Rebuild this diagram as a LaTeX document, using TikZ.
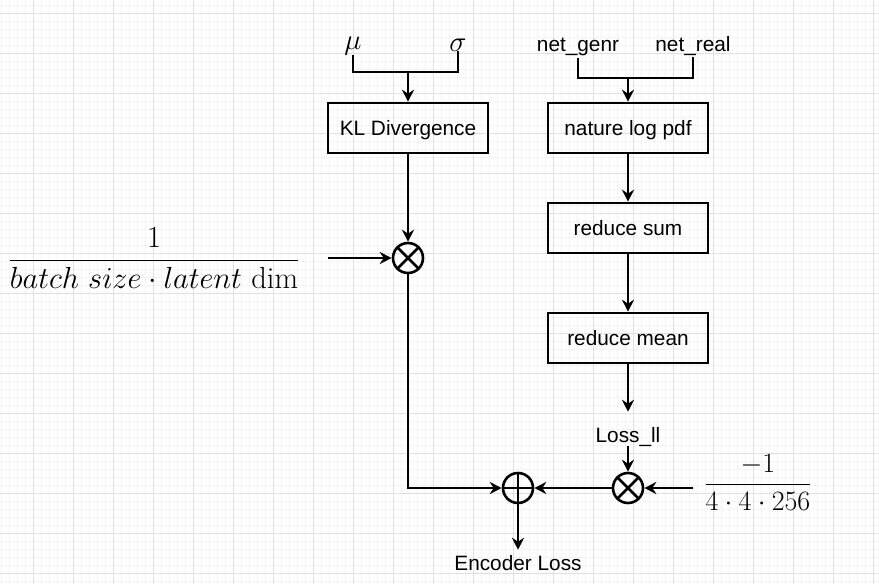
\RequirePackage{fix-cm}
\documentclass[tikz,border=0pt]{standalone}
\usepackage{amsmath}
\usepackage{fontspec}
\newfontfamily\arialf{Liberation Sans}
\usetikzlibrary{arrows.meta}
\definecolor{gridminor}{RGB}{244,244,244}
\definecolor{gridmajor}{RGB}{224,224,224}
\tikzset{
  wire/.style={line width=2.6pt, line join=miter},
  arr/.style={wire, -{Stealth[length=12pt, width=12pt, inset=4pt]}},
  opbox/.style={draw, line width=2.6pt, minimum width=160pt, minimum height=50pt, inner sep=0pt,
    text height=15pt, text depth=0pt, font=\arialf\fontsize{20.8}{24}\selectfont},
  lbl/.style={inner sep=0pt, font=\arialf\fontsize{20.8}{24}\selectfont},
  mathlbl/.style={inner sep=0pt, font=\fontsize{29}{35}\selectfont},
  otimesop/.style={circle, draw, line width=2.6pt, minimum size=30pt, inner sep=0pt,
    path picture={\draw[line width=2.6pt] (path picture bounding box.north west) -- (path picture bounding box.south east)
      (path picture bounding box.north east) -- (path picture bounding box.south west);}},
  oplusop/.style={circle, draw, line width=2.6pt, minimum size=30pt, inner sep=0pt,
    path picture={\draw[line width=2.6pt] (path picture bounding box.north) -- (path picture bounding box.south)
      (path picture bounding box.west) -- (path picture bounding box.east);}},
}
\begin{document}
\begin{tikzpicture}[x=1pt, y=-1pt]
\useasboundingbox (0,0) rectangle (879,584);
\fill[white] (0,0) rectangle (879,584);
% grid
\foreach \i in {0,...,110} {\draw[gridminor, line width=1pt] ({1+8*\i},0) -- ({1+8*\i},584);}
\foreach \i in {0,...,73} {\draw[gridminor, line width=1pt] (0,{5+8*\i}) -- (879,{5+8*\i});}
\foreach \i in {0,...,21} {\draw[gridmajor, line width=1pt] ({33+40*\i},0) -- ({33+40*\i},584);}
\foreach \i in {0,...,14} {\draw[gridmajor, line width=1pt] (0,{13+40*\i}) -- (879,{13+40*\i});}

% inputs
\node[mathlbl] (mu) at (353,46) {$\mu$};
\node[mathlbl] (sigma) at (458,45) {$\sigma$};
\node[lbl, anchor=base] (ngen) at (578,51) {net\_genr};
\node[lbl, anchor=base] (nreal) at (693,51) {net\_real};

% boxes
\node[opbox] (kl) at (408,128) {KL Divergence};
\node[opbox] (nlp) at (628,128) {nature log pdf};
\node[opbox] (rs) at (628,228) {reduce sum};
\node[opbox] (rm) at (628,338) {reduce mean};

% operators
\node[otimesop] (m1) at (408,258) {};
\node[otimesop] (m2) at (628,488) {};
\node[oplusop] (plus) at (518,488) {};

% labels
\node[lbl, anchor=base] (loss) at (628,442) {Loss\_ll};
\node[lbl, anchor=base] (enc) at (518,570) {Encoder Loss};
\node[inner sep=0pt, font=\fontsize{30.5}{36}\selectfont, anchor=base] (f1) at (154,268) {$\displaystyle\frac{1}{batch\ size\cdot latent\ \mathrm{dim}}$};
\node[inner sep=0pt, font=\fontsize{28}{33}\selectfont, anchor=base] (f2) at (758,491) {$\displaystyle\frac{-1}{4\cdot 4\cdot 256}$};

% junctions
\coordinate (jkl) at (408,72);
\coordinate (jnl) at (628,78);
\coordinate (c1) at (328,258);
\coordinate (c2) at (693,488);

% connectors
\draw[wire] (mu.south) |- (jkl) -| (sigma.south);
\draw[arr] (jkl) -- (kl.north);
\draw[wire] ([yshift=-2pt]ngen.south) |- (jnl) -| ([yshift=-2pt]nreal.south);
\draw[arr] (jnl) -- (nlp.north);
\draw[arr] (kl.south) -- (m1.north);
\draw[arr] (c1) -- (m1.west);
\draw[arr] (m1.south) |- (plus.west);
\draw[arr] (nlp.south) -- (rs.north);
\draw[arr] (rs.south) -- (rm.north);
\draw[arr, shorten >=15pt] (rm.south) -- (loss.north);
\draw[arr] (loss.south) -- (m2.north);
\draw[arr] (c2) -- (m2.east);
\draw[arr] (m2.west) -- (plus.east);
\draw[arr, shorten >=5pt] (plus.south) -- (enc.north);
\end{tikzpicture}
\end{document}
